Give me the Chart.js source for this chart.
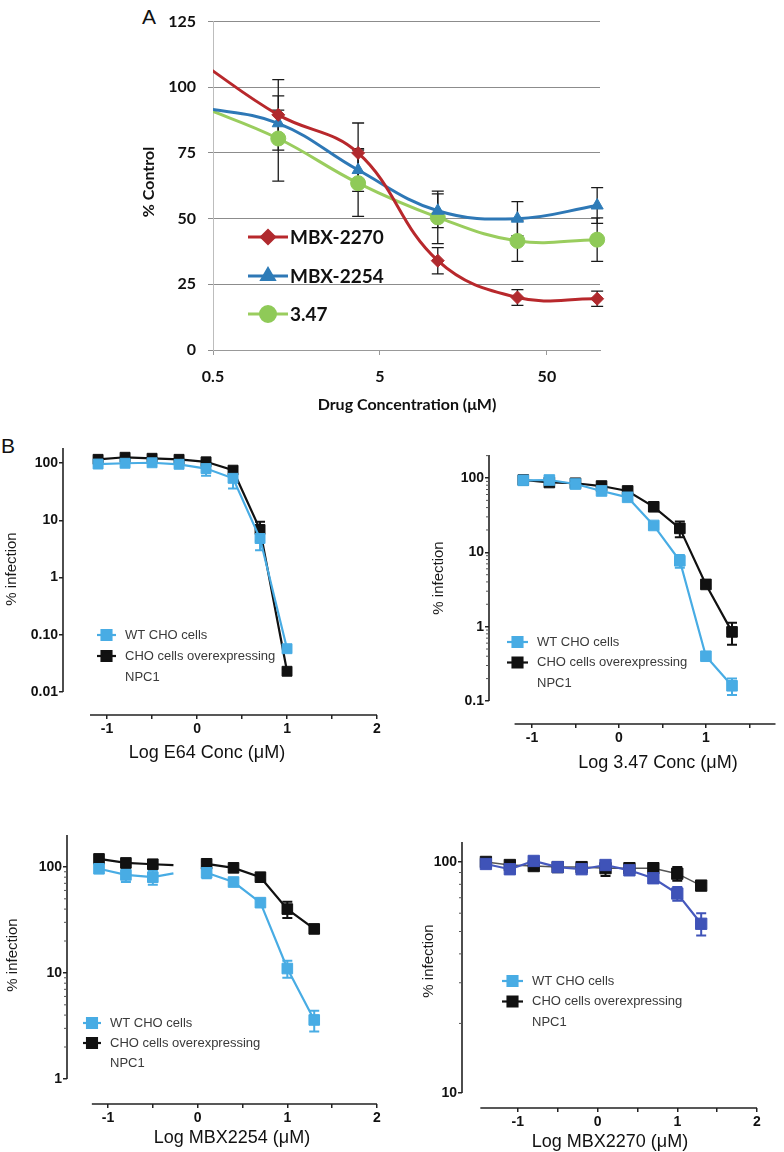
<!DOCTYPE html>
<html>
<head>
<meta charset="utf-8">
<title>Dose response panels</title>
<script src="https://cdn.jsdelivr.net/npm/chart.js@4.4.1/dist/chart.umd.min.js"></script>
<style>
  html, body { margin: 0; padding: 0; background: #fff; }
  body { position: relative; width: 784px; height: 1152px; overflow: hidden; }
  .box { position: absolute; }
  .tag { position: absolute; font-family: "Liberation Sans", Arial, sans-serif; font-size: 21px; color: #111; line-height: 1; }
</style>
</head>
<body>
<div class="tag" style="left:142px;top:6px">A</div>
<div class="tag" style="left:1px;top:435px">B</div>
<div class="box" style="left:130px;top:0;width:490px;height:420px"><canvas id="chartA"></canvas></div>
<div class="box" style="left:0;top:425px;width:400px;height:340px"><canvas id="chartE64"></canvas></div>
<div class="box" style="left:400px;top:425px;width:384px;height:352px"><canvas id="chart347"></canvas></div>
<div class="box" style="left:0;top:825px;width:400px;height:327px"><canvas id="chart2254"></canvas></div>
<div class="box" style="left:400px;top:825px;width:384px;height:327px"><canvas id="chart2270"></canvas></div>

<script>
// ---- panel A: % control vs drug concentration (uM) ----
var concA = [0.41, 1.23, 3.7, 11.1, 33.3, 100];   // first point sits left of the axis (clipped)
var labelsA = ['MBX-2270', 'MBX-2254', '3.47'];
var mbx2270 = [110, 89.5, 75, 34, 20, 19.5];
var mbx2270Err = [0, 13.4, 11.4, 5, 3, 2.9];
var mbx2254 = [92.5, 86.3, 68.5, 53, 50, 55];
var mbx2254Err = [0, 5, 8.1, 6.4, 6.5, 6.8];
var c347 = [93, 80.5, 63.5, 50.5, 41.5, 42];
var c347Err = [0, 16.2, 12.6, 10, 7.8, 8.3];
var xTicksA = [0.5, 5, 50];

// ---- panel B: % infection vs log conc ----
var cellLabels = ['WT CHO cells', 'CHO cells overexpressing', 'NPC1'];
var xTicksB = [-1, -0.5, 0, 0.5, 1, 1.5, 2];

var logE64 = [-1.1, -0.8, -0.5, -0.2, 0.1, 0.4, 0.7, 1.0];
var e64WT = [96, 99, 101, 95, 80, 54, 4.8, 0.057];
var e64WTErr = [8, 12, 12, 10, 20, 18, 1.8, 0.006];
var e64NPC = [116, 126, 121, 116, 105, 75, 6.9, 0.023];
var e64NPCErr = [8, 8, 8, 8, 8, 10, 2.5, 0.002];

var log347 = [-1.1, -0.8, -0.5, -0.2, 0.1, 0.4, 0.7, 1.0, 1.3];
var c347WT = [93, 94, 83, 67, 55, 23, 7.7, 0.4, 0.16];
var c347WTErr = [5, 6, 6, 5, 5, 2, 1.5, 0.04, 0.04];
var c347NPC = [94, 87, 85, 78, 67, 41, 21, 3.7, 0.85];
var c347NPCErr = [5, 8, 5, 5, 5, 4, 5, 0.4, 0.28];

var log2254 = [-1.1, -0.8, -0.5, -0.27, -0.1, 0.1, 0.4, 0.7, 1.0, 1.3];
var m2254WT = [96, 84, 80, 87, null, 88, 72, 46, 11, 3.6];
var m2254WTErr = [6, 12, 12, 0, 0, 10, 6, 4, 2, 0.8];
var m2254NPC = [119, 109, 106, 104, null, 107, 98, 80, 40, 26];
var m2254NPCErr = [5, 5, 5, 0, 0, 5, 5, 5, 7, 2];

var log2270 = [-1.4, -1.1, -0.8, -0.5, -0.2, 0.1, 0.4, 0.7, 1.0, 1.3];
var m2270WT = [98, 93, 101, 95, 93, 97, 92, 85, 73, 54];
var m2270WTErr = [3, 4, 4, 3, 3, 4, 4, 4, 5, 6];
var m2270NPC = [100, 97, 96, 95, 95, 94, 94, 94, 89, 79];
var m2270NPCErr = [2, 2, 2, 2, 2, 7, 3, 4, 6, 2];

var LIGHTBLUE = '#48ace4', BLACK = '#111111';

function toXY(xs, ys) {
  return xs.map(function (x, i) { return {x: x, y: ys[i]}; });
}

// fixes the chart area to page coords
function fitArea(box, area) {
  return {
    padding: {left: 0, top: area.t - box.t, right: box.l + box.w - area.r, bottom: 0},
    yWidth: area.l - box.l,
    xHeight: box.t + box.h - area.b
  };
}

function drawMarker(ctx, style, r, x, y) {
  if (Chart.helpers && Chart.helpers.drawPoint) {
    Chart.helpers.drawPoint(ctx, {pointStyle: style, radius: r, rotation: 0, borderWidth: 1}, x, y);
  } else {
    ctx.beginPath(); ctx.rect(x - r * 0.7, y - r * 0.7, r * 1.4, r * 1.4); ctx.fill();
  }
}

var errorBarPlugin = {
  id: 'errorBars',
  beforeDatasetsDraw: function (chart) {
    var ctx = chart.ctx, ys = chart.scales.y;
    chart.data.datasets.forEach(function (ds, di) {
      if (!ds.errors) return;
      var meta = chart.getDatasetMeta(di);
      ctx.save();
      ctx.strokeStyle = ds.errorColor || ds.borderColor;
      ctx.lineWidth = ds.errorWidth || 1.5;
      ctx.beginPath();
      meta.data.forEach(function (pt, i) {
        var e = ds.errors[i], raw = ds.data[i];
        if (!e || raw == null || raw.y == null) return;
        var lo = Math.max(raw.y - e, ys.min * 1.001);
        var top = ys.getPixelForValue(raw.y + e), bot = ys.getPixelForValue(lo);
        var c = ds.errorCap || 5;
        ctx.moveTo(pt.x, top); ctx.lineTo(pt.x, bot);
        ctx.moveTo(pt.x - c, top); ctx.lineTo(pt.x + c, top);
        ctx.moveTo(pt.x - c, bot); ctx.lineTo(pt.x + c, bot);
      });
      ctx.stroke();
      ctx.restore();
    });
  }
};

function textPlugin(items) {
  return {
    id: 'panelText',
    afterDraw: function (chart) {
      var ctx = chart.ctx;
      items.forEach(function (t) {
        ctx.save();
        ctx.translate(t.x, t.y);
        if (t.rot) ctx.rotate(t.rot);
        ctx.font = t.font;
        ctx.fillStyle = t.color || '#000';
        ctx.textAlign = 'center';
        ctx.textBaseline = 'middle';
        ctx.fillText(t.text, 0, 0);
        ctx.restore();
      });
    }
  };
}

// ================= Panel A =================
var boxA = {l: 130, t: 0, w: 490, h: 420};
var fitA = fitArea(boxA, {l: 213, t: 12, r: 600, b: 350});
var fontA = '"Lato", "Open Sans", sans-serif';
var hideFirst = [0, 1, 1, 1, 1, 1];

var legendA = {
  id: 'legendA',
  afterDatasetsDraw: function (chart) {
    var ctx = chart.ctx, rows = [237, 276, 314], x0 = 118, len = 40;
    chart.data.datasets.forEach(function (ds, i) {
      var y = rows[i];
      ctx.save();
      ctx.strokeStyle = ds.borderColor; ctx.lineWidth = ds.borderWidth;
      ctx.beginPath(); ctx.moveTo(x0, y); ctx.lineTo(x0 + len, y); ctx.stroke();
      ctx.fillStyle = ds.pointBackgroundColor; ctx.strokeStyle = ds.pointBorderColor;
      drawMarker(ctx, ds.pointStyle, ds.legendRadius, x0 + len / 2, y);
      ctx.font = 'bold 19px ' + fontA; ctx.fillStyle = '#111';
      ctx.textAlign = 'left'; ctx.textBaseline = 'middle';
      ctx.fillText(ds.label, x0 + len + 2, y + 1);
      ctx.restore();
    });
  }
};

function seriesA(label, vals, errs, line, fill, style, r) {
  return {
    label: label, data: toXY(concA, vals), errors: errs, errorColor: '#1a1a1a', errorWidth: 1.3, errorCap: 6,
    borderColor: line, borderWidth: 3, tension: 0.4,
    clip: {left: 0, top: 10, right: 12, bottom: 0},
    pointStyle: style, pointBackgroundColor: fill, pointBorderColor: fill, pointBorderWidth: 1,
    pointRadius: hideFirst.map(function (h) { return h * r; }), legendRadius: r
  };
}

new Chart(document.getElementById('chartA'), {
  type: 'line',
  data: {
    datasets: [
      seriesA(labelsA[0], mbx2270, mbx2270Err, '#b8282c', '#b02a2e', 'rectRot', 6.5),
      seriesA(labelsA[1], mbx2254, mbx2254Err, '#2e78b6', '#2e7cb8', 'triangle', 7),
      seriesA(labelsA[2], c347, c347Err, '#9acd5e', '#8fca58', 'circle', 7.5)
    ]
  },
  options: {
    responsive: true, maintainAspectRatio: false, animation: false,
    layout: {padding: fitA.padding},
    plugins: {legend: {display: false}, tooltip: {enabled: false}},
    scales: {
      x: {
        type: 'logarithmic', min: 0.5, max: 104,
        afterBuildTicks: function (s) { s.ticks = xTicksA.map(function (v) { return {value: v}; }); },
        afterFit: function (s) { s.height = fitA.xHeight; },
        ticks: {callback: function (v) { return String(v); }, color: '#111', font: {family: fontA, size: 16, weight: 'bold'}, padding: 12, maxRotation: 0, autoSkip: false},
        grid: {drawOnChartArea: false, color: '#999', tickLength: 5},
        border: {color: '#999', width: 1}
      },
      y: {
        min: 0, max: 125,
        afterFit: function (s) { s.width = fitA.yWidth; },
        ticks: {stepSize: 25, color: '#111', font: {family: fontA, size: 16, weight: 'bold'}, padding: 12},
        grid: {color: '#8c8c8c', tickLength: 5},
        border: {color: '#bdbdbd', width: 1}
      }
    }
  },
  plugins: [errorBarPlugin, legendA, textPlugin([
    {text: '% Control', x: 19, y: 182, rot: -Math.PI / 2, font: 'bold 16px ' + fontA, color: '#111'},
    {text: 'Drug Concentration (\u03bcM)', x: 277, y: 405, font: 'bold 16px ' + fontA, color: '#111'}
  ])]
});

// ================= Panel B =================
var fontB = '"Liberation Sans", Arial, sans-serif';

var panels = [
  {id: 'chartE64', box: {l: 0, t: 425, w: 400, h: 340}, area: {l: 63, t: 448, r: 377, b: 715},
   xMin: -1.49, xMax: 2.0, xAxisFrom: -1.19, yMin: 0.00396, yMax: 183, xTicks: xTicksB,
   yTicks: [0.01, 0.1, 1, 10, 100], yLabels: ['0.01', '0.10', '1', '10', '100'], yAxisFrom: 0.01, minorY: false,
   xs: logE64, wt: e64WT, wtErr: e64WTErr, npc: e64NPC, npcErr: e64NPCErr,
   xTitle: 'Log E64 Conc (\u03bcM)', xTitlePos: [207, 753], yTitlePos: [12, 569],
   legend: {x: 97, y: 635, len: 19, step: 21}, marker: 7, noMarker: []},
  {id: 'chart347', box: {l: 400, t: 425, w: 384, h: 352}, area: {l: 489, t: 455, r: 782, b: 724},
   xMin: -1.494, xMax: 1.8, xAxisFrom: -1.2, yMin: 0.049, yMax: 204, xTicks: [-1, -0.5, 0, 0.5, 1, 1.5],
   yTicks: [0.1, 1, 10, 100], yLabels: ['0.1', '1', '10', '100'], yAxisFrom: 0.1, minorY: true,
   xs: log347, wt: c347WT, wtErr: c347WTErr, npc: c347NPC, npcErr: c347NPCErr,
   xTitle: 'Log 3.47 Conc (\u03bcM)', xTitlePos: [658, 763], yTitlePos: [439, 578],
   legend: {x: 507, y: 642, len: 21, step: 20.5}, marker: 7.5, noMarker: []},
  {id: 'chart2254', box: {l: 0, t: 825, w: 400, h: 327}, area: {l: 67, t: 835, r: 377, b: 1104},
   xMin: -1.457, xMax: 2.0, xAxisFrom: -1.18, yMin: 0.58, yMax: 200, xTicks: xTicksB,
   yTicks: [1, 10, 100], yLabels: ['1', '10', '100'], yAxisFrom: 1, minorY: true,
   xs: log2254, wt: m2254WT, wtErr: m2254WTErr, npc: m2254NPC, npcErr: m2254NPCErr,
   xTitle: 'Log MBX2254 (\u03bcM)', xTitlePos: [232, 1138], yTitlePos: [13, 955],
   legend: {x: 83, y: 1023, len: 18, step: 20}, marker: 7.5, noMarker: [3]},
  {id: 'chart2270', box: {l: 400, t: 825, w: 384, h: 327}, area: {l: 462, t: 842, r: 757, b: 1108},
   xMin: -1.70, xMax: 2.0, xAxisFrom: -1.47, yMin: 8.61, yMax: 122, xTicks: xTicksB,
   yTicks: [10, 100], yLabels: ['10', '100'], yAxisFrom: 10, minorY: true,
   xs: log2270, wt: m2270WT, wtErr: m2270WTErr, npc: m2270NPC, npcErr: m2270NPCErr,
   xTitle: 'Log MBX2270 (\u03bcM)', xTitlePos: [610, 1142], yTitlePos: [429, 961],
   legend: {x: 502, y: 981, len: 21, step: 20.5}, marker: 8, noMarker: [],
   wtLine: '#4659bd', wtFill: '#3f53b8', npcLine: '#555555', npcWidth: 1.5}
];

function axisPlugin(p) {
  return {
    id: 'axisLines',
    afterDraw: function (chart) {
      var ctx = chart.ctx, xs = chart.scales.x, ys = chart.scales.y, a = chart.chartArea;
      ctx.save();
      ctx.strokeStyle = '#222'; ctx.lineWidth = 1.6;
      ctx.beginPath();
      ctx.moveTo(a.left, ys.getPixelForValue(p.yAxisFrom));
      ctx.lineTo(a.left, a.top);
      ctx.moveTo(xs.getPixelForValue(p.xAxisFrom), a.bottom);
      ctx.lineTo(a.right, a.bottom);
      ctx.stroke();
      if (p.minorY) {
        ctx.lineWidth = 1; ctx.strokeStyle = '#555';
        ctx.beginPath();
        for (var k = Math.floor(Math.log10(p.yAxisFrom)); k <= 3; k++) {
          for (var m = 2; m <= 9; m++) {
            var v = m * Math.pow(10, k);
            if (v <= p.yAxisFrom || v >= p.yMax) continue;
            var py = ys.getPixelForValue(v);
            ctx.moveTo(a.left - 3, py); ctx.lineTo(a.left, py);
          }
        }
        ctx.stroke();
      }
      ctx.restore();
    }
  };
}

function legendPlugin(p) {
  return {
    id: 'legendB',
    afterDraw: function (chart) {
      var ctx = chart.ctx, L = p.legend;
      var x0 = L.x - p.box.l, y0 = L.y - p.box.t;
      var rows = [
        {line: LIGHTBLUE, fill: LIGHTBLUE, text: cellLabels[0]},
        {line: BLACK, fill: BLACK, text: cellLabels[1]},
        {line: null, text: cellLabels[2]}
      ];
      rows.forEach(function (r, i) {
        var y = y0 + i * L.step;
        ctx.save();
        if (r.line) {
          ctx.strokeStyle = r.line; ctx.lineWidth = 2.2;
          ctx.beginPath(); ctx.moveTo(x0, y); ctx.lineTo(x0 + L.len, y); ctx.stroke();
          ctx.fillStyle = r.fill; ctx.strokeStyle = r.fill;
          drawMarker(ctx, 'rect', 7, x0 + L.len / 2, y);
        }
        ctx.font = '13px ' + fontB; ctx.fillStyle = '#3a3a3a';
        ctx.textAlign = 'left'; ctx.textBaseline = 'middle';
        ctx.fillText(r.text, x0 + L.len + 9, y);
        ctx.restore();
      });
    }
  };
}

panels.forEach(function (p) {
  var fit = fitArea(p.box, p.area);
  var radii = function () {
    return p.xs.map(function (x, i) { return p.noMarker.indexOf(i) >= 0 ? 0 : p.marker; });
  };
  var wtColor = p.wtFill || LIGHTBLUE;
  var datasets = [
    {label: cellLabels[0], data: toXY(p.xs, p.wt), errors: p.wtErr, errorColor: wtColor, errorWidth: 2, errorCap: 5,
     borderColor: p.wtLine || LIGHTBLUE, borderWidth: 2.2, tension: 0, spanGaps: false,
     pointStyle: 'rect', pointBackgroundColor: wtColor, pointBorderColor: wtColor, pointBorderWidth: 1, pointRadius: radii()},
    {label: cellLabels[1] + ' ' + cellLabels[2], data: toXY(p.xs, p.npc), errors: p.npcErr, errorColor: BLACK, errorWidth: 2, errorCap: 5,
     borderColor: p.npcLine || BLACK, borderWidth: p.npcWidth || 2.2, tension: 0, spanGaps: false,
     pointStyle: 'rect', pointBackgroundColor: BLACK, pointBorderColor: BLACK, pointBorderWidth: 1, pointRadius: radii()}
  ];
  new Chart(document.getElementById(p.id), {
    type: 'line',
    data: {datasets: datasets},
    options: {
      responsive: true, maintainAspectRatio: false, animation: false,
      layout: {padding: fit.padding},
      plugins: {legend: {display: false}, tooltip: {enabled: false}},
      scales: {
        x: {
          type: 'linear', min: p.xMin, max: p.xMax,
          afterBuildTicks: function (s) { s.ticks = p.xTicks.map(function (v) { return {value: v}; }); },
          afterFit: function (s) { s.height = fit.xHeight; },
          ticks: {
            callback: function (v) { return Number.isInteger(v) ? String(v) : ''; },
            color: '#111', font: {family: fontB, size: 14, weight: 'bold'}, padding: 2, maxRotation: 0, autoSkip: false
          },
          grid: {drawOnChartArea: false, color: '#222', lineWidth: 1.5, tickLength: 4},
          border: {display: false}
        },
        y: {
          type: 'logarithmic', min: p.yMin, max: p.yMax,
          afterBuildTicks: function (s) { s.ticks = p.yTicks.map(function (v) { return {value: v}; }); },
          afterFit: function (s) { s.width = fit.yWidth; },
          ticks: {
            callback: function (v) { var i = p.yTicks.indexOf(v); return i >= 0 ? p.yLabels[i] : ''; },
            color: '#111', font: {family: fontB, size: 14, weight: 'bold'}, padding: 1, autoSkip: false
          },
          grid: {drawOnChartArea: false, color: '#222', lineWidth: 1.5, tickLength: 4},
          border: {display: false}
        }
      }
    },
    plugins: [errorBarPlugin, axisPlugin(p), legendPlugin(p), textPlugin([
      {text: '% infection', x: p.yTitlePos[0] - p.box.l, y: p.yTitlePos[1] - p.box.t, rot: -Math.PI / 2, font: '15px ' + fontB, color: '#1a1a1a'},
      {text: p.xTitle, x: p.xTitlePos[0] - p.box.l, y: p.xTitlePos[1] - p.box.t, font: '18px ' + fontB, color: '#111'}
    ])]
  });
});
</script>
</body>
</html>
